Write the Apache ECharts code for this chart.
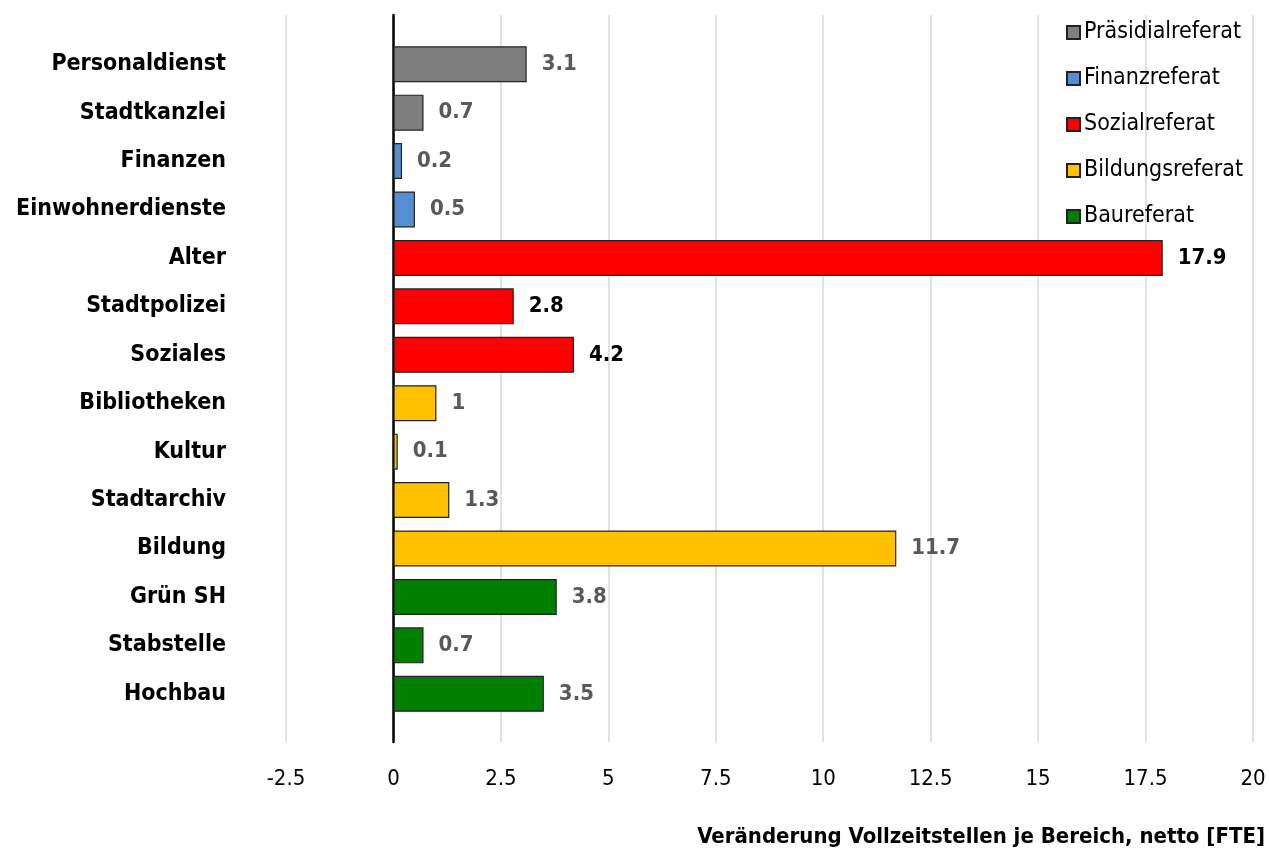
<!DOCTYPE html>
<html>
<head>
<meta charset="utf-8">
<script src="https://cdn.jsdelivr.net/npm/echarts@6/dist/echarts.min.js"></script>
<style>
html,body{margin:0;padding:0;background:#fff;}
#chart{width:1269px;height:856px;}
</style>
</head>
<body>
<div id="chart"></div>
<script>
const categories = ['Personaldienst','Stadtkanzlei','Finanzen','Einwohnerdienste','Alter','Stadtpolizei','Soziales','Bibliotheken','Kultur','Stadtarchiv','Bildung','Grün SH','Stabstelle','Hochbau'];
const seriesNames = ['Präsidialreferat','Finanzreferat','Sozialreferat','Bildungsreferat','Baureferat'];
const praesidial = [3.1, 0.7, '-', '-', '-', '-', '-', '-', '-', '-', '-', '-', '-', '-'];
const finanz     = ['-', '-', 0.2, 0.5, '-', '-', '-', '-', '-', '-', '-', '-', '-', '-'];
const sozial     = ['-', '-', '-', '-', 17.9, 2.8, 4.2, '-', '-', '-', '-', '-', '-', '-'];
const bildung    = ['-', '-', '-', '-', '-', '-', '-', 1, 0.1, 1.3, 11.7, '-', '-', '-'];
const bau        = ['-', '-', '-', '-', '-', '-', '-', '-', '-', '-', '-', 3.8, 0.7, 3.5];
const xTicks = { min: -2.5, max: 20, interval: 2.5 };
const axisTitle = 'Veränderung Vollzeitstellen je Bereich, netto [FTE]';

const FONT = '"DejaVu Sans Condensed", "Liberation Sans Narrow", "Liberation Sans", Arial, sans-serif';
const colors = ['#7F7F7F', '#558ED5', '#FF0000', '#FFC000', '#008000'];
const labelColors = ['#595959', '#595959', '#000000', '#595959', '#595959'];
const datasets = [praesidial, finanz, sozial, bildung, bau];

const chart = echarts.init(document.getElementById('chart'), null, {renderer: 'canvas'});
chart.setOption({
  animation: false,
  backgroundColor: '#fff',
  textStyle: { fontFamily: FONT },
  grid: [
    { left: 286, right: 16, top: 40, bottom: 138 },
    { left: 286, right: 16, top: 15, bottom: 114 }
  ],
  xAxis: [
    { gridIndex: 0, type: 'value', min: xTicks.min, max: xTicks.max, interval: xTicks.interval,
      axisLine: {show: false}, axisTick: {show: false}, axisLabel: {show: false}, splitLine: {show: false} },
    { gridIndex: 1, type: 'value', min: xTicks.min, max: xTicks.max, interval: xTicks.interval,
      axisLine: {show: false}, axisTick: {show: false},
      axisLabel: { color: '#000', fontSize: 22, fontFamily: FONT, margin: 26 },
      splitLine: { show: true, lineStyle: { color: '#D9D9D9', width: 1.5 } } }
  ],
  yAxis: [
    { gridIndex: 0, type: 'category', data: categories, inverse: true,
      axisLine: {show: false, onZero: false}, axisTick: {show: false},
      axisLabel: { color: '#000', fontSize: 23, fontWeight: 'bold', fontFamily: FONT, margin: 60 },
      splitLine: {show: false} },
    { gridIndex: 1, type: 'value', min: 0, max: 1,
      axisLine: { show: true, onZero: true, lineStyle: { color: '#000', width: 2.5 } },
      axisTick: {show: false}, axisLabel: {show: false}, splitLine: {show: false} }
  ],
  legend: {
    orient: 'vertical', left: 1061, top: 16,
    itemWidth: 13, itemHeight: 13, itemGap: 23,
    icon: 'rect',
    data: seriesNames,
    textStyle: { color: '#000', fontSize: 23, fontFamily: FONT, padding: [0, 0, 0, -1] }
  },
  graphic: [
    { type: 'text', right: 4, top: 826,
      style: { text: axisTitle, fill: '#000', font: 'bold 22px ' + FONT, textAlign: 'right' } }
  ],
  series: datasets.map((d, i) => ({
    name: seriesNames[i], type: 'bar', stack: 'all',
    xAxisIndex: 0, yAxisIndex: 0,
    data: d, barWidth: 36,
    itemStyle: { color: colors[i], borderColor: '#222', borderWidth: 1.2 },
    label: { show: true, position: 'right', distance: 15, color: labelColors[i],
      fontSize: 22, fontWeight: 'bold', fontFamily: FONT }
  }))
});
</script>
</body>
</html>
